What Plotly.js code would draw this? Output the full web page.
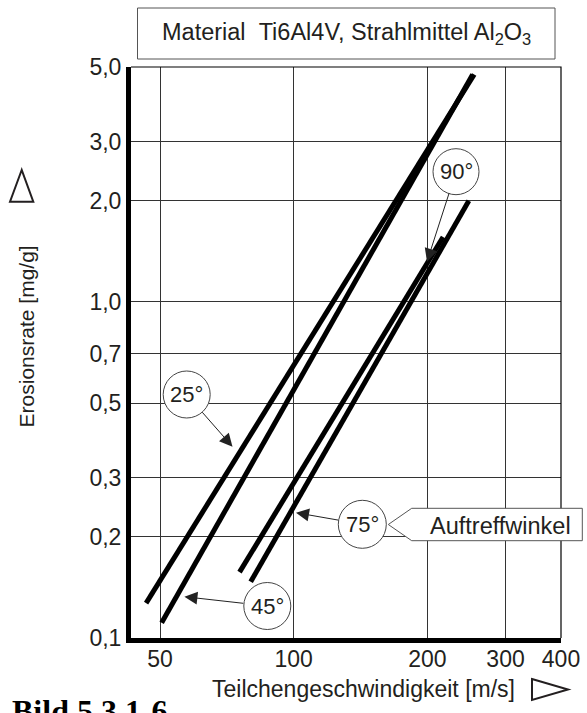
<!DOCTYPE html>
<html><head><meta charset="utf-8">
<script src="https://cdn.plot.ly/plotly-3.0.1.min.js"></script>
<style>html,body{margin:0;padding:0;background:#fff}#chart{width:587px;height:713px}</style>
</head><body><div id="chart"></div>
<script>
// ---- data ----
const speedTicks = [50, 100, 200, 300, 400];
const speedTickText = ['50', '100', '200', '300', '400'];
const rateTicks = [0.1, 0.2, 0.3, 0.5, 0.7, 1, 2, 3, 5];
const rateTickText = ['0,1', '0,2', '0,3', '0,5', '0,7', '1,0', '2,0', '3,0', '5,0'];
const angleLabels = ['25°', '45°', '75°', '90°'];
const speed25 = [46.5, 255];
const rate25 = [0.127, 4.75];
const speed45 = [50.4, 253];
const rate45 = [0.111, 4.75];
const speed75 = [80, 248];
const rate75 = [0.147, 2.0];
const speed90 = [75.5, 217];
const rate90 = [0.157, 1.56];
const titleText = 'Material\u00a0\u00a0Ti6Al4V, Strahlmittel Al<sub>2</sub>O<sub>3</sub>';
const xTitle = 'Teilchengeschwindigkeit [m/s]';
const yTitle = 'Erosionsrate [mg/g]';
const calloutText = 'Auftreffwinkel';
const figText = '<b>Bild 5.3.1-6</b>';

// ---- layout geometry ----
const W = 587, H = 713, L = 131, R = 561, T = 67, B = 638;
const px = x => (x - L) / (R - L);
const py = y => (B - y) / (B - T);
const FONT = 'Liberation Sans, Arial, sans-serif';
const TXT = '#231f20';

const lineStyle = {color: '#000', width: 5};
const series = [[speed25, rate25], [speed45, rate45], [speed75, rate75], [speed90, rate90]];
const traces = series.map((s, i) => ({
  type: 'scatter', mode: 'lines', x: s[0], y: s[1], name: angleLabels[i],
  line: lineStyle, showlegend: false, hoverinfo: 'skip'
}));

// circle callouts (pixel centre, radius), arrow head in pixels, extra start offset
const circles = [
  {c: [186.7, 394.5], r: 23.5, head: [232.5, 446.7], so: 5},
  {c: [267.3, 606.0], r: 23.5, head: [184.4, 596.7], so: 6},
  {c: [362.3, 524.3], r: 24.0, head: [296.0, 512.7], so: 6},
  {c: [456.0, 171.7], r: 23.0, head: [427.0, 261.7], so: 8}
];

const shapes = [
  // thin top and right frame
  {type: 'path', xref: 'paper', yref: 'paper', path: 'M0,1 L1,1 L1,0', line: {color: '#000', width: 1.2}, layer: 'above'},
  // title box
  {type: 'rect', xref: 'paper', yref: 'paper', x0: px(137.5), x1: px(555), y0: py(59), y1: py(8),
   line: {color: '#555', width: 1}, fillcolor: '#fff'},
  // Auftreffwinkel callout
  {type: 'path', xref: 'paper', yref: 'paper', layer: 'above',
   path: `M${px(388.3)},${py(524.5)} L${px(411.7)},${py(508.3)} L${px(582.3)},${py(508.3)} L${px(582.3)},${py(540.7)} L${px(411.7)},${py(540.7)} Z`,
   line: {color: '#555', width: 1}, fillcolor: '#fff'},
  // y-title triangle
  {type: 'path', xref: 'paper', yref: 'paper',
   path: `M${px(21.7)},${py(170)} L${px(10)},${py(201.7)} L${px(33.3)},${py(201.7)} Z`,
   line: {color: TXT, width: 2}},
  // x-title triangle
  {type: 'path', xref: 'paper', yref: 'paper',
   path: `M${px(532)},${py(679)} L${px(568)},${py(689.5)} L${px(532)},${py(700)} Z`,
   line: {color: TXT, width: 2}}
];
circles.forEach(o => shapes.push({
  type: 'circle', xref: 'paper', yref: 'paper', layer: 'above',
  x0: px(o.c[0] - o.r), x1: px(o.c[0] + o.r), y0: py(o.c[1] + o.r), y1: py(o.c[1] - o.r),
  line: {color: '#444', width: 1}, fillcolor: '#fff'
}));

const annotations = [
  {xref: 'paper', yref: 'paper', x: px(346), y: py(33.5), text: titleText, showarrow: false,
   xanchor: 'center', yanchor: 'middle', font: {family: FONT, size: 23.5, color: TXT}},
  {xref: 'paper', yref: 'paper', x: px(500), y: py(525.5), text: calloutText, showarrow: false,
   xanchor: 'center', yanchor: 'middle', font: {family: FONT, size: 23.5, color: TXT}},
  {xref: 'paper', yref: 'paper', x: px(26.7), y: py(336.7), text: yTitle, textangle: -90, showarrow: false,
   xanchor: 'center', yanchor: 'middle', font: {family: FONT, size: 21, color: TXT}},
  {xref: 'paper', yref: 'paper', x: px(363), y: py(689), text: xTitle, showarrow: false,
   xanchor: 'center', yanchor: 'middle', font: {family: FONT, size: 23, color: TXT}},
  {xref: 'paper', yref: 'paper', x: px(10), y: py(691), text: figText, showarrow: false,
   xanchor: 'left', yanchor: 'top', font: {family: 'Liberation Serif, Times New Roman, serif', size: 32, color: '#000'}}
];
circles.forEach((o, i) => {
  annotations.push({xref: 'paper', yref: 'paper', x: px(o.head[0]), y: py(o.head[1]), text: angleLabels[i],
    showarrow: true, axref: 'pixel', ayref: 'pixel', ax: o.c[0] - o.head[0], ay: o.c[1] - o.head[1],
    startstandoff: o.so, arrowhead: 2, arrowsize: 2.6, arrowwidth: 1, arrowcolor: '#222',
    font: {family: FONT, size: 22, color: TXT}});
});

const axisCommon = {
  type: 'log', showgrid: true, gridcolor: '#333', gridwidth: 1, zeroline: false,
  showline: true, linecolor: '#000', linewidth: 5, ticks: '', tickmode: 'array',
  tickfont: {family: FONT, size: 23, color: TXT}, fixedrange: true
};
const layout = {
  width: W, height: H, margin: {l: L, r: W - R, t: T, b: H - B, pad: 0},
  paper_bgcolor: '#fff', plot_bgcolor: '#fff', showlegend: false,
  xaxis: Object.assign({}, axisCommon, {range: [Math.log10(43), Math.log10(400)], tickvals: speedTicks, ticktext: speedTickText, ticklabelstandoff: -4}),
  yaxis: Object.assign({}, axisCommon, {range: [Math.log10(0.1), Math.log10(5)], tickvals: rateTicks, ticktext: rateTickText}),
  shapes: shapes, annotations: annotations
};
Plotly.newPlot('chart', traces, layout, {staticPlot: true, displayModeBar: false});
</script></body></html>
